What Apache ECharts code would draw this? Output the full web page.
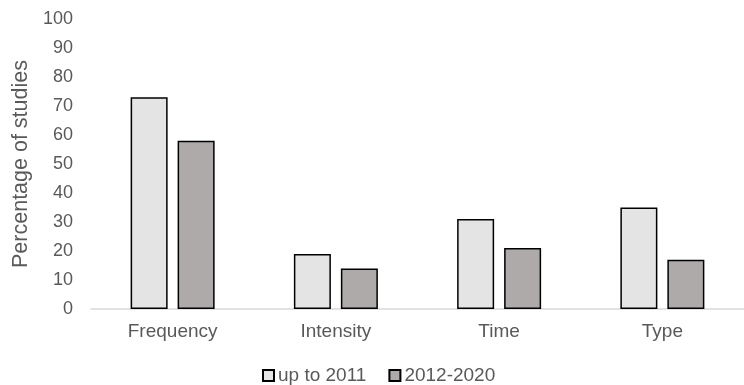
<!DOCTYPE html>
<html>
<head>
<meta charset="utf-8">
<script src="https://cdn.jsdelivr.net/npm/echarts@6/dist/echarts.min.js"></script>
<style>
  html, body { margin: 0; padding: 0; background: #fff; }
  #chart { width: 744px; height: 385px; }
</style>
</head>
<body>
<div id="chart"></div>
<script>
// Study counts by dimension, split by publication period
const categories = ['Frequency', 'Intensity', 'Time', 'Type'];
const upTo2011 = [73, 19, 31, 35];
const from2012to2020 = [58, 14, 21, 17];
const yTicks = [0, 10, 20, 30, 40, 50, 60, 70, 80, 90, 100];

const FONT = '"Liberation Sans", Arial, sans-serif';
const chart = echarts.init(document.getElementById('chart'), null, { renderer: 'canvas' });

chart.setOption({
  animation: false,
  textStyle: { fontFamily: FONT },
  grid: { left: 91, top: 19, width: 656, height: 290, containLabel: false },
  legend: {
    top: 361,
    left: 257,
    icon: 'rect',
    itemWidth: 11,
    itemHeight: 11,
    itemGap: 22,
    textStyle: { fontFamily: FONT, fontSize: 19, color: '#595959', padding: [0, 0, 0, -1] },
    data: ['up to 2011', '2012-2020']
  },
  xAxis: {
    type: 'category',
    data: categories,
    axisLine: { lineStyle: { color: '#d9d9d9', width: 1.5 } },
    axisTick: { show: false },
    axisLabel: { fontFamily: FONT, fontSize: 19, color: '#595959', margin: 13 }
  },
  yAxis: {
    type: 'value',
    min: yTicks[0],
    max: yTicks[yTicks.length - 1],
    interval: 10,
    name: 'Percentage of studies',
    nameLocation: 'middle',
    nameGap: 57,
    nameTextStyle: { fontFamily: FONT, fontSize: 21.5, color: '#595959' },
    axisLine: { show: false },
    axisTick: { show: false },
    splitLine: { show: false },
    axisLabel: { fontFamily: FONT, fontSize: 18, color: '#595959', margin: 18 }
  },
  series: [
    {
      name: 'up to 2011',
      type: 'bar',
      data: upTo2011,
      barWidth: 37,
      barGap: '27%',
      itemStyle: { color: '#e4e4e4', borderColor: '#000', borderWidth: 1.5 }
    },
    {
      name: '2012-2020',
      type: 'bar',
      data: from2012to2020,
      barWidth: 37,
      itemStyle: { color: '#aeaaaa', borderColor: '#000', borderWidth: 1.5 }
    }
  ]
});
</script>
</body>
</html>
